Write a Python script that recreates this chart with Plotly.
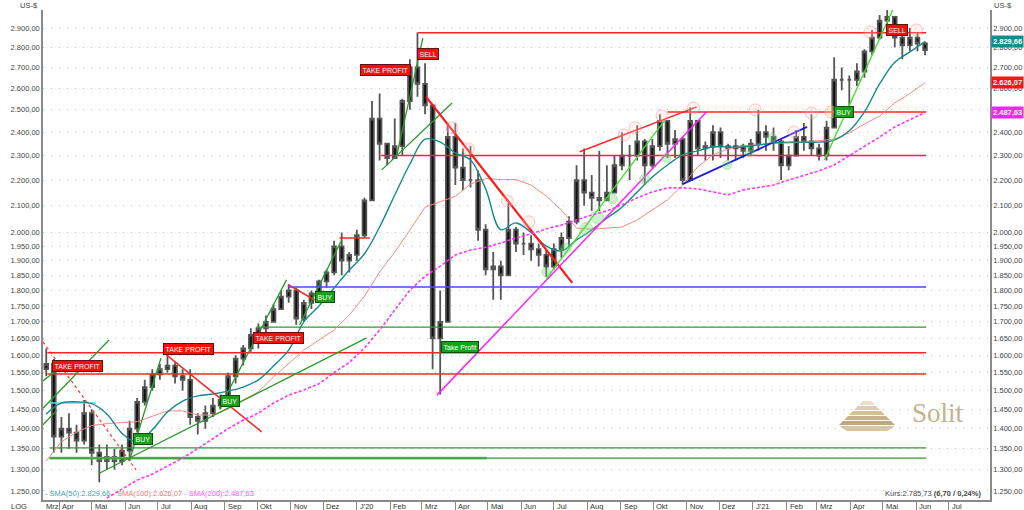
import numpy as np
import pandas as pd
import plotly.graph_objects as go

# ---------------- data ----------------
week_dates = pd.date_range("2019-03-20", periods=117, freq="7D")
first_open = 1560
week_high = [1620, 1590, 1430, 1440, 1410, 1475, 1450, 1360, 1360, 1350,
             1360, 1420, 1480, 1530, 1560, 1575, 1605, 1580, 1560, 1560,
             1440, 1460, 1480, 1490, 1550, 1600, 1630, 1680, 1695, 1720,
             1755, 1800, 1820, 1810, 1770, 1800, 1835, 1870, 1970, 2000,
             1930, 2010, 2130, 2540, 2575, 2330, 2460, 2550, 2740, 2875,
             2720, 2460, 1800, 2440, 2440, 2330, 2340, 2240, 2030, 1930,
             1900, 2110, 2020, 2000, 1990, 1960, 1940, 1960, 2000, 2060,
             2260, 2330, 2220, 2320, 2260, 2300, 2400, 2345, 2430, 2370,
             2370, 2480, 2430, 2410, 2380, 2510, 2450, 2360, 2430, 2420,
             2350, 2370, 2350, 2370, 2500, 2430, 2420, 2370, 2340, 2410,
             2440, 2480, 2350, 2450, 2750, 2700, 2660, 2720, 2790, 2890,
             2970, 3010, 2950, 2880, 2900, 2880, 2830]
week_low = [1540, 1340, 1340, 1350, 1340, 1360, 1310, 1270, 1300, 1300,
            1310, 1320, 1390, 1460, 1500, 1530, 1550, 1520, 1500, 1410,
            1385, 1400, 1430, 1450, 1465, 1520, 1570, 1610, 1620, 1660,
            1700, 1740, 1760, 1690, 1700, 1740, 1780, 1810, 1850, 1850,
            1860, 1900, 1980, 2120, 2280, 2260, 2290, 2300, 2500, 2560,
            2480, 1560, 1490, 1700, 2180, 2160, 2170, 1970, 1850, 1770,
            1770, 1930, 1930, 1920, 1900, 1880, 1845, 1870, 1910, 1950,
            2030, 2100, 2080, 2080, 2120, 2160, 2240, 2200, 2280, 2180,
            2250, 2320, 2290, 2290, 2180, 2210, 2300, 2280, 2280, 2290,
            2280, 2280, 2290, 2300, 2320, 2320, 2320, 2200, 2240, 2320,
            2320, 2300, 2280, 2280, 2430, 2590, 2520, 2610, 2650, 2760,
            2840, 2900, 2800, 2740, 2780, 2780, 2760]
week_close = [1575, 1380, 1400, 1390, 1370, 1440, 1340, 1320, 1330, 1320,
              1345, 1400, 1470, 1510, 1545, 1560, 1570, 1540, 1530, 1430,
              1420, 1440, 1460, 1475, 1540, 1590, 1620, 1660, 1680, 1700,
              1740, 1780, 1800, 1710, 1760, 1790, 1830, 1860, 1950, 1900,
              1920, 1990, 2120, 2460, 2350, 2290, 2340, 2540, 2700, 2620,
              2520, 1650, 1700, 2380, 2250, 2200, 2200, 2010, 1870, 1880,
              1850, 2010, 1960, 1960, 1940, 1920, 1880, 1940, 1980, 2040,
              2200, 2150, 2130, 2120, 2150, 2260, 2300, 2300, 2360, 2260,
              2340, 2450, 2350, 2370, 2200, 2450, 2330, 2340, 2400, 2340,
              2330, 2340, 2320, 2350, 2400, 2380, 2360, 2260, 2300, 2380,
              2360, 2330, 2300, 2420, 2640, 2640, 2640, 2680, 2780, 2850,
              2940, 2960, 2850, 2810, 2850, 2820, 2785.73]

sma_dates = week_dates[::2]
sma50 = [1438, 1467, 1470, 1465, 1438, 1388, 1366, 1397, 1443, 1472,
         1486, 1491, 1499, 1510, 1530, 1569, 1615, 1700, 1750, 1808,
         1868, 1924, 2020, 2141, 2265, 2370, 2357, 2311, 2282, 2165,
         2010, 2035, 2000, 1951, 1934, 1973, 2009, 2053, 2094, 2153,
         2212, 2261, 2303, 2320, 2336, 2336, 2336, 2345, 2353, 2357,
         2357, 2357, 2366, 2406, 2490, 2620, 2725, 2777, 2829.66]
sma100 = [1320, 1367, 1391, 1408, 1413, 1416, 1418, 1432, 1446, 1446,
          1435, 1435, 1451, 1475, 1497, 1538, 1575, 1615, 1645, 1675,
          1721, 1781, 1861, 1930, 2009, 2094, 2115, 2136, 2184, 2206,
          2202, 2202, 2180, 2137, 2083, 2016, 2012, 2016, 2020, 2046,
          2083, 2122, 2180, 2253, 2303, 2328, 2341, 2345, 2353, 2353,
          2357, 2362, 2370, 2397, 2436, 2471, 2531, 2575, 2626.07]
sma200_dates = week_dates[8::2]
sma200 = [1234, 1255, 1275, 1289, 1307, 1327, 1350, 1375, 1400, 1422,
          1440, 1467, 1488, 1502, 1519, 1550, 1579, 1621, 1675, 1737,
          1801, 1847, 1881, 1920, 1937, 1947, 1962, 1980, 1995, 2013,
          2027, 2046, 2065, 2080, 2103, 2130, 2153, 2169, 2169, 2165,
          2153, 2141, 2161, 2169, 2180, 2200, 2220, 2237, 2261, 2299,
          2336, 2379, 2423, 2454, 2487.63]

# horizontal support / resistance lines: start, end, level, kind
hlines = [
    ("2020-02-26", "2021-06-10", 2875, "red"),
    ("2020-10-14", "2021-06-10", 2490, "red"),
    ("2020-01-23", "2021-06-10", 2300, "red"),
    ("2019-10-30", "2021-06-10", 1811, "hblue"),
    ("2019-09-30", "2021-06-10", 1684, "hgreen"),
    ("2019-03-21", "2021-06-10", 1607, "red"),
    ("2019-03-21", "2021-06-10", 1546, "red"),
    ("2019-03-23", "2021-06-10", 1352, "hgreen"),
    ("2019-03-23", "2020-04-30", 1327, "hgreen_thick"),
    ("2019-03-23", "2021-06-10", 1327, "hgreen"),
    ("2019-12-16", "2020-01-13", 1980, "red"),
    ("2019-03-23", "2019-05-05", 1467, "cyan"),
]

# trend lines: start date, start level, end date, end level, kind
tlines = [
    ("2019-03-17", 1453, "2019-05-17", 1645, "green"),
    ("2019-03-17", 1527, "2019-03-30", 1558, "green"),
    ("2019-03-17", 1410, "2019-03-30", 1448, "green"),
    ("2019-03-17", 1639, "2019-06-11", 1299, "reddash"),
    ("2019-05-08", 1291, "2020-01-10", 1651, "green"),
    ("2019-06-05", 1322, "2019-07-04", 1592, "green"),
    ("2019-07-09", 1601, "2019-10-05", 1392, "red"),
    ("2019-08-27", 1453, "2019-10-28", 1835, "green"),
    ("2019-10-30", 1818, "2019-11-23", 1769, "red"),
    ("2019-11-09", 1690, "2019-12-18", 1973, "green"),
    ("2020-02-07", 2303, "2020-03-02", 2848, "green"),
    ("2020-01-24", 2241, "2020-03-29", 2531, "green"),
    ("2020-03-05", 2559, "2020-07-18", 1825, "redthick"),
    ("2020-03-15", 1488, "2020-11-19", 2490, "magenta"),
    ("2020-06-24", 1838, "2020-10-13", 2463, "lime"),
    ("2020-07-25", 2316, "2020-11-10", 2513, "red"),
    ("2020-10-28", 2184, "2021-02-20", 2423, "blue"),
    ("2021-03-08", 2282, "2021-05-13", 3036, "lime"),
]

signal_labels = [
    ("TAKE PROFIT", "2019-04-18", 1569, "sell"),
    ("TAKE PROFIT", "2019-07-29", 1618, "sell"),
    ("BUY", "2019-06-17", 1374, "buy"),
    ("BUY", "2019-09-06", 1472, "buy"),
    ("TAKE PROFIT", "2019-10-21", 1651, "sell"),
    ("BUY", "2019-12-03", 1779, "buy"),
    ("TAKE PROFIT", "2020-01-27", 2687, "sell"),
    ("SELL", "2020-03-07", 2767, "sell"),
    ("Take Profit", "2020-04-05", 1624, "buy"),
    ("BUY", "2021-03-26", 2490, "buy"),
    ("SELL", "2021-05-14", 2890, "sell"),
]

pivot_high_dates = ["2020-03-29", "2020-04-13", "2020-05-19", "2020-06-08", "2020-09-04",
                    "2020-09-14", "2020-10-09", "2020-11-07", "2021-01-03", "2021-02-08",
                    "2021-02-24", "2021-04-19", "2021-06-01"]
pivot_high_vals = [2419, 2328, 2118, 2039, 2388, 2419, 2472, 2508, 2499, 2401, 2485, 2880, 2890]
pivot_mid_dates = ["2021-03-14"]
pivot_mid_vals = [2490]
pivot_low_dates = ["2020-06-24", "2020-07-12", "2020-07-31", "2020-08-10", "2020-08-24",
                   "2020-09-23", "2020-10-13", "2020-12-08", "2020-12-29", "2021-01-19"]
pivot_low_vals = [1860, 1944, 2013, 2057, 2126, 2204, 2290, 2261, 2316, 2375]
pivot_low_sizes = [9, 10, 13, 13, 10, 10, 9, 9, 9, 9]

y_ticks = [1250, 1300, 1350, 1400, 1450, 1500, 1550, 1600, 1650, 1700, 1750,
           1800, 1850, 1900, 1950, 2000, 2100, 2200, 2300, 2400, 2500, 2600,
           2700, 2800, 2900]
month_ticks = pd.date_range("2019-04-01", "2021-07-01", freq="MS")
month_labels = ["Apr", "Mai", "Jun", "Jul", "Aug", "Sep", "Okt", "Nov", "Dez",
                "J'20", "Feb", "Mrz", "Apr", "Mai", "Jun", "Jul", "Aug", "Sep",
                "Okt", "Nov", "Dez", "J'21", "Feb", "Mrz", "Apr", "Mai", "Jun", "Jul"]
first_label = ("Mrz", "2019-03-17")
last_price = 2785.73
last_change = 6.70
last_change_pct = 0.24
x_range = ["2019-03-17", "2021-08-08"]
y_range_vals = [1229.7, 2997]

# ---------------- helpers ----------------
def de(v, nd=2):
    s = f"{v:,.{nd}f}"
    return s.replace(",", "X").replace(".", ",").replace("X", ".")

FONT = "Liberation Sans, Arial, sans-serif"
styles = {
    "red": dict(color="#ff2424", width=1.5),
    "redthick": dict(color="#ff1a1a", width=2.2),
    "reddash": dict(color="#ff3030", width=1.2, dash="3px,3px"),
    "hblue": dict(color="#4848ff", width=1.6),
    "blue": dict(color="#1c1ce0", width=1.8),
    "hgreen": dict(color="#2e9a2e", width=1.3),
    "hgreen_thick": dict(color="#70c070", width=2.6),
    "green": dict(color="#2a9a2a", width=1.3),
    "lime": dict(color="#44e030", width=1.4),
    "magenta": dict(color="#ff22ff", width=1.5),
    "cyan": dict(color="#5ad8e8", width=1.4),
}

opens = [first_open] + week_close[:-1]
highs = [max(h, o, c) for h, o, c in zip(week_high, opens, week_close)]
lows = [min(l, o, c) for l, o, c in zip(week_low, opens, week_close)]

fig = go.Figure()

fig.add_trace(go.Candlestick(
    x=week_dates, open=opens, high=highs, low=lows, close=week_close,
    increasing=dict(line=dict(color="#555555", width=1.8), fillcolor="#111111"),
    decreasing=dict(line=dict(color="#555555", width=1.8), fillcolor="#111111"),
    whiskerwidth=0, showlegend=False, hoverinfo="skip"))

for d0, d1, lvl, kind in hlines:
    fig.add_trace(go.Scatter(x=[d0, d1], y=[lvl, lvl], mode="lines",
                             line=styles[kind], showlegend=False, hoverinfo="skip"))

fig.add_trace(go.Scatter(x=sma_dates, y=sma100, mode="lines",
                         line=dict(color="#f58a80", width=1), showlegend=False, hoverinfo="skip"))
fig.add_trace(go.Scatter(x=sma_dates, y=sma50, mode="lines",
                         line=dict(color="#168a8c", width=1.4, shape="spline"), showlegend=False, hoverinfo="skip"))

for d0, v0, d1, v1, kind in tlines:
    fig.add_trace(go.Scatter(x=[d0, d1], y=[v0, v1], mode="lines",
                             line=styles[kind], showlegend=False, hoverinfo="skip"))

fig.add_trace(go.Scatter(x=pivot_high_dates, y=pivot_high_vals, mode="markers",
                         marker=dict(size=12, color="rgba(255,205,205,0.25)",
                                     line=dict(color="rgba(255,140,140,0.5)", width=1)),
                         showlegend=False, hoverinfo="skip"))
fig.add_trace(go.Scatter(x=pivot_mid_dates, y=pivot_mid_vals, mode="markers",
                         marker=dict(size=12, color="rgba(255,210,160,0.4)",
                                     line=dict(color="rgba(255,160,100,0.6)", width=1)),
                         showlegend=False, hoverinfo="skip"))
fig.add_trace(go.Scatter(x=pivot_low_dates, y=pivot_low_vals, mode="markers",
                         marker=dict(size=pivot_low_sizes, color="rgba(110,220,110,0.5)",
                                     line=dict(color="rgba(110,210,110,0.6)", width=1)),
                         showlegend=False, hoverinfo="skip"))

# SMA200 on the right-hand axis (same scale)
fig.add_trace(go.Scatter(x=sma200_dates, y=sma200, mode="lines", yaxis="y2",
                         line=dict(color="#ff33ff", width=1.6, dash="3px,2px"),
                         showlegend=False, hoverinfo="skip"))

ann = []
for text, d, v, kind in signal_labels:
    if kind == "sell":
        bg, bd = "#ff0d0d", "#6a1010"
    else:
        bg, bd = "#16a316", "#0d4d0d"
    ann.append(dict(x=d, y=np.log10(v), xref="x", yref="y", text=text, showarrow=False,
                    xanchor="center", yanchor="middle",
                    font=dict(family=FONT, size=7, color="white"), bgcolor=bg,
                    bordercolor=bd, borderwidth=1, borderpad=1.5))

# month labels
ann.append(dict(x=first_label[1], y=0, xref="x", yref="paper", text=first_label[0],
                showarrow=False, xanchor="left", yanchor="top", xshift=1, yshift=0,
                font=dict(family=FONT, size=7.5, color="#333")))
for d, t in zip(month_ticks, month_labels):
    ann.append(dict(x=d, y=0, xref="x", yref="paper", text=t, showarrow=False,
                    xanchor="left", yanchor="top", xshift=1, yshift=0,
                    font=dict(family=FONT, size=7.5, color="#333")))

ann.append(dict(x=0, y=0, xref="paper", yref="paper", text="LOG", showarrow=False,
                xanchor="right", yanchor="top", xshift=-14, yshift=0,
                font=dict(family=FONT, size=7.5, color="#333")))
ann.append(dict(x=0, y=1, xref="paper", yref="paper", text="US-$", showarrow=False,
                xanchor="right", yanchor="bottom", xshift=-3, yshift=-2,
                font=dict(family=FONT, size=7.5, color="#444")))
ann.append(dict(x=1, y=1, xref="paper", yref="paper", text="US-$", showarrow=False,
                xanchor="left", yanchor="bottom", xshift=2, yshift=-2,
                font=dict(family=FONT, size=7.5, color="#444")))

legend_txt = ("<span style='color:#4aa4b0'>- SMA(50):" + de(sma50[-1]) + "</span>"
              "<span style='color:#f07a70'> - SMA(100):" + de(sma100[-1]) + "</span>"
              "<span style='color:#ff55ff'> - SMA(200):" + de(sma200[-1]) + "</span>")
ann.append(dict(x=0, y=0, xref="paper", yref="paper", text=legend_txt, showarrow=False,
                xanchor="left", yanchor="bottom", xshift=0, yshift=0,
                font=dict(family=FONT, size=7.5)))
ann.append(dict(x=0.9926, y=0, xref="paper", yref="paper",
                text="Kurs:" + de(last_price) + " <b>(" + de(last_change) + " / " + de(last_change_pct) + "%)</b>",
                showarrow=False, xanchor="right", yanchor="bottom", yshift=0,
                font=dict(family=FONT, size=7.5, color="#444")))

for v, bg in [(sma50[-1], "#158c8c"), (sma100[-1], "#ff1414"), (sma200[-1], "#ff22ff")]:
    ann.append(dict(x=1, y=np.log10(v), xref="paper", yref="y", text="<b>" + de(v) + "</b>",
                    showarrow=False, xanchor="left", yanchor="middle", xshift=1, bgcolor=bg, borderpad=1,
                    font=dict(family=FONT, size=7.5, color="white")))

# logo (Solit)
def px2paper(px, py):
    return (px - 43) / 947, (500 - py) / 490

shapes = []
layers = [(401, 405, 4, 8), (406, 410, 9, 13), (411, 415, 14, 18),
          (416, 420, 19, 23), (421, 425, 24, 28), (426, 431, 28, 20)]
layer_cols = ["#e9dec6", "#ddcdab", "#d3c09b", "#c8b48b", "#bea77c", "#d6c6a4"]
cx = 867
for (t, b, hwt, hwb), col in zip(layers, layer_cols):
    p = [px2paper(cx - hwt, t), px2paper(cx + hwt, t), px2paper(cx + hwb, b), px2paper(cx - hwb, b)]
    path = "M {} {} L {} {} L {} {} L {} {} Z".format(*[c for pt in p for c in pt])
    shapes.append(dict(type="path", xref="paper", yref="paper", path=path,
                       fillcolor=col, line=dict(width=0), layer="above"))
sx, sy = px2paper(938, 413)
ann.append(dict(x=sx, y=sy, xref="paper", yref="paper", text="Solit", showarrow=False,
                xanchor="center", yanchor="middle",
                font=dict(family="Liberation Serif, DejaVu Serif, serif", size=27, color="#c6b08c")))

tick_text = [de(v) for v in y_ticks]
yr = [np.log10(y_range_vals[0]), np.log10(y_range_vals[1])]

fig.update_layout(
    width=1024, height=510,
    margin=dict(l=43, r=34, t=10, b=10, autoexpand=False),
    paper_bgcolor="white", plot_bgcolor="white",
    font=dict(family=FONT, size=8, color="#444"),
    showlegend=False,
    annotations=ann, shapes=shapes,
    xaxis=dict(type="date", range=x_range, showgrid=False, zeroline=False, automargin=False,
               showline=True, linecolor="#8a8a8a", linewidth=1.5,
               tickvals=list(month_ticks), ticks="outside", ticklen=10,
               tickcolor="#8a8a8a", showticklabels=False, rangeslider=dict(visible=False)),
    yaxis=dict(type="log", range=yr, tickvals=y_ticks, ticktext=tick_text, automargin=False,
               showgrid=True, gridcolor="#bdbdbd", gridwidth=1, griddash="1px,7px",
               zeroline=False, showline=True, linecolor="#8a8a8a", linewidth=1.5,
               ticks="", tickfont=dict(family=FONT, size=7.5, color="#444")),
    yaxis2=dict(type="log", range=yr, tickvals=y_ticks, ticktext=tick_text, automargin=False,
                overlaying="y", side="right", showgrid=False, zeroline=False,
                showline=True, linecolor="#8a8a8a", linewidth=1.5, ticks="",
                tickfont=dict(family=FONT, size=7.5, color="#444")),
)

fig.write_html("out.html", config={"displayModeBar": False},
               post_script="document.body.style.margin='0';")
